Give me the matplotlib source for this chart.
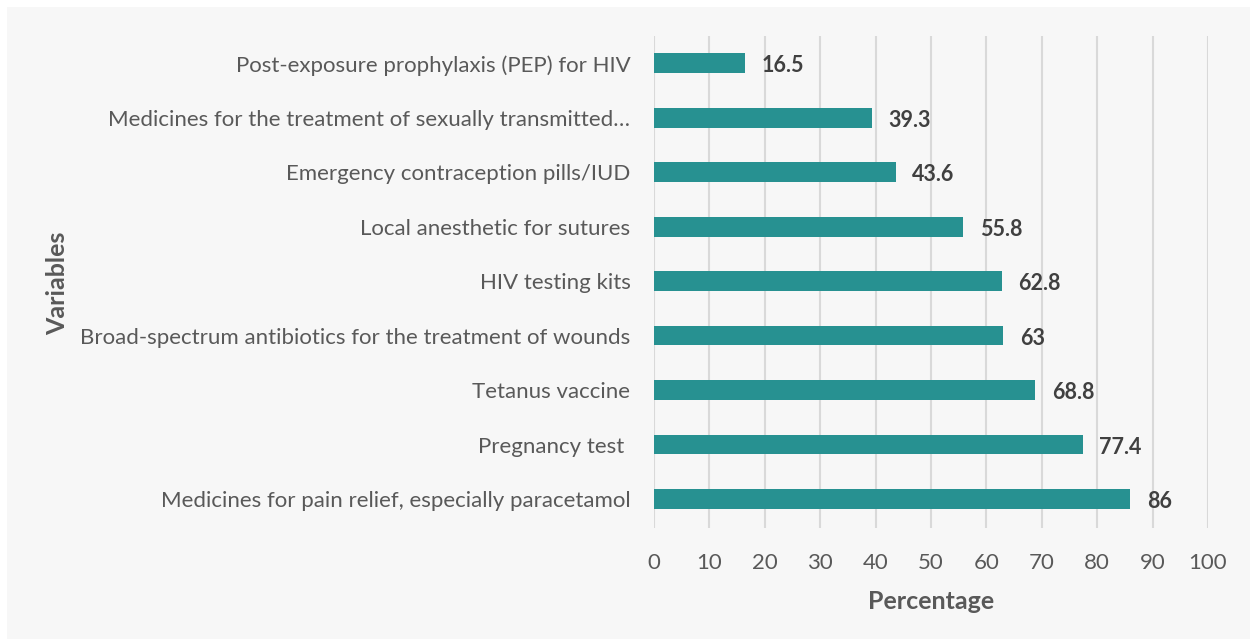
"""Horizontal bar chart of medicine / supply availability."""

import matplotlib.pyplot as plt
from matplotlib.patches import Rectangle

# Data (bottom to top)
categories = [
    "Medicines for pain relief, especially paracetamol",
    "Pregnancy test ",
    "Tetanus vaccine",
    "Broad-spectrum antibiotics for the treatment of wounds",
    "HIV testing kits",
    "Local anesthetic for sutures",
    "Emergency contraception pills/IUD",
    "Medicines for the treatment of sexually transmitted\u2026",
    "Post-exposure prophylaxis (PEP) for HIV",
]
values = [86, 77.4, 68.8, 63, 62.8, 55.8, 43.6, 39.3, 16.5]
value_labels = ["86", "77.4", "68.8", "63", "62.8", "55.8", "43.6", "39.3", "16.5"]
x_ticks = list(range(0, 101, 10))

plt.rcParams["font.family"] = ["Lato", "DejaVu Sans"]

W, H = 1250, 639
fig = plt.figure(figsize=(W / 100, H / 100), dpi=100)
fig.patch.set_facecolor("white")
# light gray chart area, leaving a thin white strip on top/left
fig.patches.append(Rectangle((7 / W, 0), 1 - 7 / W, 1 - 7 / H,
                             transform=fig.transFigure, facecolor="#f7f7f7",
                             edgecolor="none", zorder=-10))

ax = fig.add_axes([654 / W, 1 - 528 / H, (1208 - 654) / W, (528 - 36) / H])
ax.set_facecolor("none")

pos = list(range(len(categories)))
bars = ax.barh(pos, values, height=0.36, color="#279191", zorder=3)

for b, lab in zip(bars, value_labels):
    ax.text(b.get_width() + 3, b.get_y() + b.get_height() / 2 - 0.05, lab,
            va="center", ha="left", fontsize=15.5, fontweight="bold",
            color="#404040")

ax.set_xlim(0, 100)
ax.set_ylim(-0.53, 8.5)
ax.set_xticks(x_ticks)
ax.set_yticks(pos)
ax.set_yticklabels(categories)
ax.tick_params(axis="both", length=0, labelsize=16, labelcolor="#595959")
ax.tick_params(axis="y", pad=17)
ax.tick_params(axis="x", pad=18)
ax.grid(axis="x", color="#d9d9d9", linewidth=1.5, zorder=0)
for s in ax.spines.values():
    s.set_visible(False)

ax.set_xlabel("Percentage", fontsize=18, fontweight="bold", color="#595959",
              labelpad=12)
fig.text(58 / W, 1 - 283 / H, "Variables", rotation=90, ha="center",
         va="center", fontsize=18, fontweight="bold", color="#595959")

fig.savefig("out.png", dpi=100)
